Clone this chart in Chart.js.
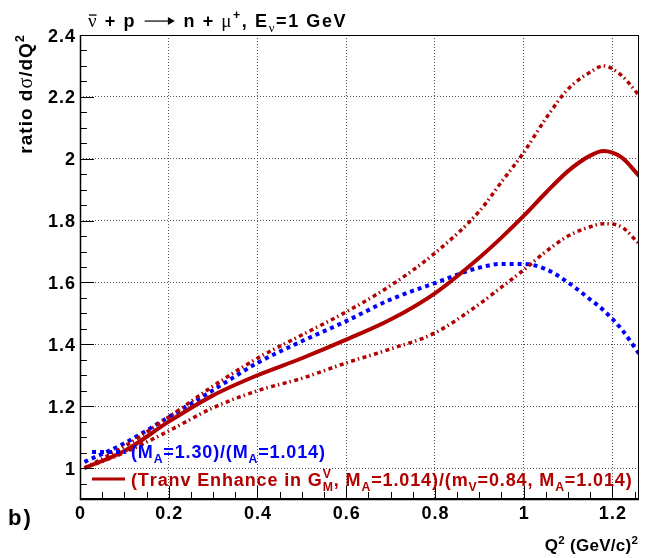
<!DOCTYPE html>
<html>
<head>
<meta charset="utf-8">
<script src="https://cdn.jsdelivr.net/npm/chart.js@4"></script>
<style>
html,body{margin:0;padding:0;background:#fff;}
canvas{display:block;}
</style>
</head>
<body>
<canvas id="myChart" width="652" height="558"></canvas>
<script>
const qsq = [0.01,0.1,0.2,0.3,0.4,0.5,0.6,0.7,0.8,0.9,0.95,1.0,1.05,1.1,1.15,1.18,1.22,1.26];
// ratio curves
const ratioTranv    = [1.0,1.055,1.15,1.235,1.30,1.355,1.415,1.48,1.565,1.68,1.745,1.815,1.89,1.96,2.01,2.025,2.005,1.945];
const ratioTranvUp  = [1.0,1.07,1.165,1.265,1.355,1.43,1.505,1.59,1.695,1.83,1.925,2.02,2.13,2.225,2.28,2.30,2.27,2.205];
const ratioTranvLow = [1.0,1.05,1.12,1.195,1.25,1.29,1.34,1.385,1.437,1.53,1.585,1.64,1.70,1.75,1.78,1.79,1.78,1.725];
const ratioMA       = [1.02,1.08,1.165,1.252,1.34,1.41,1.475,1.545,1.598,1.648,1.66,1.66,1.643,1.60,1.545,1.51,1.45,1.37];

const xTicks = [0,0.2,0.4,0.6,0.8,1,1.2];
const xTickLabels = ['0','0.2','0.4','0.6','0.8','1','1.2'];
const yTicks = [1,1.2,1.4,1.6,1.8,2,2.2,2.4];
const yTickLabels = ['1','1.2','1.4','1.6','1.8','2','2.2','2.4'];

const darkRed = '#b00000';
const SANS = '"Liberation Sans", Arial, sans-serif';

function points(ys){
    return qsq.map(function(x,i){ return {x:x, y:ys[i]}; });
}

// ---- text helpers: letter spaced, sub/superscripts, greek ----
function spacedWidth(ctx,text,sp){
    let w = 0;
    for(const ch of text){ w += ctx.measureText(ch).width + sp; }
    return w;
}
function drawSpaced(ctx,text,x,y,sp){
    for(const ch of text){
        ctx.fillText(ch,x,y);
        x += ctx.measureText(ch).width + sp;
    }
}
function partFont(kind,size){
    let s = (kind=='sub'||kind=='sup'||kind=='gsub'||kind=='subsup') ? size*0.68 : size;
    if(kind=='g'||kind=='gbar'||kind=='gsub'){
        return (s*1.05)+'px "Liberation Serif", serif';
    }
    return 'bold '+s+'px '+SANS;
}
function partWidth(ctx,p,size,sp){
    if(p[1]=='arrow'){ return size*1.9; }
    ctx.font = partFont(p[1],size);
    if(p[1]=='subsup'){
        let ab = p[0].split('|');
        return Math.max(spacedWidth(ctx,ab[0],sp), spacedWidth(ctx,ab[1],sp));
    }
    return spacedWidth(ctx,p[0],sp);
}
function drawRich(ctx,parts,x,y,size,align,sp){
    let total = 0;
    parts.forEach(function(p){ total += partWidth(ctx,p,size,sp); });
    let cx = (align=='right') ? x-total+sp : x;
    ctx.textAlign = 'left';
    ctx.textBaseline = 'alphabetic';
    parts.forEach(function(p){
        let w = partWidth(ctx,p,size,sp);
        let k = p[1];
        if(k=='arrow'){
            let ay = y-size*0.33;
            ctx.fillRect(cx+2,ay-0.6,w-6,1.2);
            ctx.beginPath();
            ctx.moveTo(cx+w-2,ay); ctx.lineTo(cx+w-9,ay-4); ctx.lineTo(cx+w-9,ay+4); ctx.closePath();
            ctx.fill();
        }else if(k=='sub'||k=='gsub'){
            drawSpaced(ctx,p[0],cx,y+size*0.3,sp);
        }else if(k=='sup'){
            drawSpaced(ctx,p[0],cx,y-size*0.42,sp);
        }else if(k=='subsup'){
            let ab = p[0].split('|');
            drawSpaced(ctx,ab[0],cx,y+size*0.3,sp);
            drawSpaced(ctx,ab[1],cx,y-size*0.45,sp);
        }else{
            drawSpaced(ctx,p[0],cx,y,sp);
        }
        if(k=='gbar'){
            ctx.fillRect(cx+1,y-size*0.7,w-sp-1,1.3);
        }
        cx += w;
    });
}

const framePlugin = {
    id:'frame',
    afterDraw:function(chart){
        const ctx = chart.ctx;
        const a = chart.chartArea;
        const xs = chart.scales.x, ys = chart.scales.y;
        ctx.save();
        ctx.setLineDash([]);
        ctx.strokeStyle = '#000';
        ctx.lineWidth = 1;
        ctx.strokeRect(a.left+0.5,a.top+0.5,a.right-a.left-1,a.bottom-a.top-1);
        ctx.lineWidth = 1.5;
        ctx.beginPath();
        ctx.moveTo(a.left+0.5,a.top); ctx.lineTo(a.left+0.5,a.bottom+0.5); ctx.lineTo(a.right,a.bottom+0.5);
        ctx.stroke();
        // ticks inside the frame
        ctx.lineWidth = 1;
        ctx.beginPath();
        for(let i=0;i<=25;i++){
            let px = Math.round(xs.getPixelForValue(i*0.05))+0.5;
            let len = (i%4==0) ? 13 : 7;
            ctx.moveTo(px,a.bottom); ctx.lineTo(px,a.bottom-len);
        }
        for(let i=0;i<=30;i++){
            let py = Math.round(ys.getPixelForValue(0.9+i*0.05))+0.5;
            let len = ((i-2)%4==0) ? 14 : 7;
            ctx.moveTo(a.left,py); ctx.lineTo(a.left+len,py);
        }
        ctx.stroke();

        // tick labels
        ctx.fillStyle = '#000';
        ctx.font = 'bold 18px '+SANS;
        xTicks.forEach(function(v,i){
            let w = spacedWidth(ctx,xTickLabels[i],1)-1;
            drawSpaced(ctx,xTickLabels[i],xs.getPixelForValue(v)-w/2,519,1);
        });
        yTicks.forEach(function(v,i){
            let w = spacedWidth(ctx,yTickLabels[i],1)-1;
            drawSpaced(ctx,yTickLabels[i],75-w,ys.getPixelForValue(v)+6.5,1);
        });

        // titles
        drawRich(ctx,[['ν','gbar'],[' + p ','b'],['','arrow'],[' n + ','b'],['μ','g'],['+','sup'],[', E','b'],['ν','gsub'],['=1 GeV','b']],88,27,18,'left',1.6);
        drawRich(ctx,[['Q','b'],['2','sup'],[' (GeV/c)','b'],['2','sup']],638,551,17,'right',0.3);
        ctx.save();
        ctx.translate(32,35);
        ctx.rotate(-Math.PI/2);
        drawRich(ctx,[['ratio d','b'],['σ','g'],['/dQ','b'],['2','sup']],0,0,19,'right',1);
        ctx.restore();
        ctx.font = 'bold 22px '+SANS;
        drawSpaced(ctx,'b)',8,525,2);

        // legend
        ctx.lineCap = 'butt';
        ctx.strokeStyle = '#0000ff';
        ctx.lineWidth = 4;
        ctx.setLineDash([4,4]);
        ctx.beginPath(); ctx.moveTo(92,452); ctx.lineTo(125,452); ctx.stroke();
        ctx.setLineDash([]);
        ctx.strokeStyle = darkRed;
        ctx.lineWidth = 3;
        ctx.beginPath(); ctx.moveTo(92,479); ctx.lineTo(125,479); ctx.stroke();
        ctx.fillStyle = '#0000ff';
        drawRich(ctx,[['(M','b'],['A','sub'],['=1.30)/(M','b'],['A','sub'],['=1.014)','b']],131,458,18,'left',0.85);
        ctx.fillStyle = darkRed;
        drawRich(ctx,[['(Tranv Enhance in G','b'],['M|V','subsup'],[', M','b'],['A','sub'],['=1.014)/(m','b'],['V','sub'],['=0.84, M','b'],['A','sub'],['=1.014)','b']],131,486,18,'left',0.88);
        ctx.restore();
    }
};

const ctx = document.getElementById('myChart').getContext('2d');
const myChart = new Chart(ctx,{
    type:'line',
    data:{
        datasets:[
            {label:'Tranv',data:points(ratioTranv),borderColor:darkRed,borderWidth:4,pointRadius:0,cubicInterpolationMode:'monotone'},
            {label:'Tranv up',data:points(ratioTranvUp),borderColor:darkRed,borderWidth:3.5,borderDash:[4,3,1.5,3.5],pointRadius:0,cubicInterpolationMode:'monotone'},
            {label:'Tranv low',data:points(ratioTranvLow),borderColor:darkRed,borderWidth:3.5,borderDash:[4,3,1.5,3.5],pointRadius:0,cubicInterpolationMode:'monotone'},
            {label:'MA',data:points(ratioMA),borderColor:'#0000ff',borderWidth:4,borderDash:[4,4],pointRadius:0,cubicInterpolationMode:'monotone'}
        ]
    },
    options:{
        responsive:false,
        animation:false,
        layout:{padding:{top:35,right:13,left:0,bottom:0}},
        plugins:{legend:{display:false},tooltip:{enabled:false}},
        scales:{
            x:{
                type:'linear',min:0,max:1.26,
                afterBuildTicks:function(s){ s.ticks = xTicks.map(function(v){ return {value:v}; }); },
                afterFit:function(s){ s.height = 59; },
                grid:{color:'#555',lineWidth:1,drawTicks:false},
                border:{display:false,dash:[1,2]},
                ticks:{display:false}
            },
            y:{
                type:'linear',min:0.9,max:2.4,
                afterBuildTicks:function(s){ s.ticks = yTicks.map(function(v){ return {value:v}; }); },
                afterFit:function(s){ s.width = 80; },
                grid:{color:'#555',lineWidth:1,drawTicks:false},
                border:{display:false,dash:[1,2]},
                ticks:{display:false}
            }
        }
    },
    plugins:[framePlugin]
});
</script>
</body>
</html>
